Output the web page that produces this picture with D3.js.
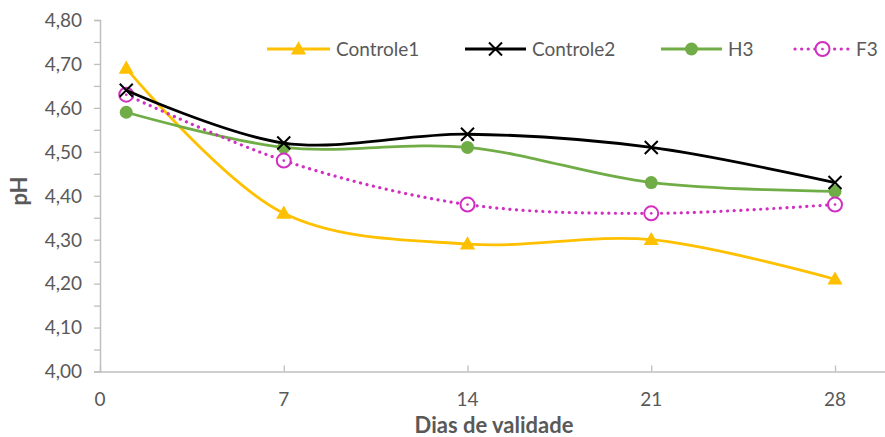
<!DOCTYPE html>
<html><head><meta charset="utf-8">
<script src="https://cdn.jsdelivr.net/npm/d3@7"></script>
<style>body{margin:0;background:#fff}svg{display:block}text{font-family:Lato,"Open Sans",sans-serif}</style>
</head><body><svg id="c" width="885" height="437"></svg>
<script>
const days = [1, 7, 14, 21, 28];
const controle1 = [4.69, 4.36, 4.29, 4.30, 4.21];
const controle2 = [4.64, 4.52, 4.54, 4.51, 4.43];
const h3 = [4.59, 4.51, 4.51, 4.43, 4.41];
const f3 = [4.63, 4.48, 4.38, 4.36, 4.38];
const xTicks = [0, 7, 14, 21, 28];
const yTicks = [4.0, 4.1, 4.2, 4.3, 4.4, 4.5, 4.6, 4.7, 4.8];
const seriesNames = ["Controle1", "Controle2", "H3", "F3"];

const svg = d3.select("#c");
const x = d3.scaleLinear().domain([0, 30]).range([100, 887.5]);
const y = d3.scaleLinear().domain([4.0, 4.8]).range([371.5, 20]);
const axisCol = "#bfbfbf", textCol = "#595959";

// y axis
const ya = svg.append("g").attr("transform", "translate(100,0)")
  .call(d3.axisLeft(y).tickValues(d3.range(4.0, 4.801, 0.05)).tickSize(6).tickFormat(""));
ya.select(".domain").attr("stroke", axisCol).attr("stroke-width", 1.5);
ya.selectAll("line").attr("stroke", axisCol).attr("stroke-width", 1.3);
svg.append("g").selectAll("text").data(yTicks).join("text")
  .attr("x", 82).attr("y", d => y(d)).attr("dy", "0.36em").attr("text-anchor", "end")
  .attr("fill", textCol).attr("font-size", 19).text(d => d.toFixed(2).replace(".", ","));

// x axis
const xa = svg.append("g").attr("transform", "translate(0,371.5)")
  .call(d3.axisBottom(x).tickValues(xTicks).tickSize(-6).tickFormat("").tickSizeOuter(0));
xa.select(".domain").attr("stroke", axisCol).attr("stroke-width", 1.5);
xa.selectAll("line").attr("stroke", axisCol).attr("stroke-width", 1.3);
svg.append("g").selectAll("text").data(xTicks).join("text")
  .attr("x", d => x(d)).attr("y", 406).attr("text-anchor", "middle")
  .attr("fill", textCol).attr("font-size", 19).text(d => d);

svg.append("text").attr("x", 494).attr("y", 433).attr("text-anchor", "middle")
  .attr("font-weight", "bold").attr("font-size", 22).attr("fill", textCol).text("Dias de validade");
svg.append("text").attr("transform", "translate(27,191) rotate(-90)").attr("text-anchor", "middle")
  .attr("font-weight", "bold").attr("font-size", 22).attr("fill", textCol).text("pH");

const series = [
  {name: seriesNames[0], vals: controle1, color: "#ffc000", marker: "tri", dash: null},
  {name: seriesNames[1], vals: controle2, color: "#000000", marker: "x", dash: null},
  {name: seriesNames[2], vals: h3, color: "#70ad47", marker: "dot", dash: null},
  {name: seriesNames[3], vals: f3, color: "#d12fc2", marker: "ring", dash: "0.1,6.5"}
];

const line = d3.line().x((d, i) => x(days[i])).y(d => y(d)).curve(d3.curveCatmullRom.alpha(0.5));

function marker(g, type, color, cx, cy) {
  if (type === "tri") {
    g.append("path").attr("d", d3.symbol(d3.symbolTriangle, 100)()).attr("transform", `translate(${cx},${cy+1})`).attr("fill", color);
  } else if (type === "x") {
    const s = 6.5;
    g.append("path").attr("d", `M${cx-s},${cy-s}L${cx+s},${cy+s}M${cx-s},${cy+s}L${cx+s},${cy-s}`)
      .attr("stroke", color).attr("stroke-width", 2);
  } else if (type === "dot") {
    g.append("circle").attr("cx", cx).attr("cy", cy).attr("r", 6.5).attr("fill", color);
  } else {
    g.append("circle").attr("cx", cx).attr("cy", cy).attr("r", 7).attr("fill", "#fff").attr("stroke", color).attr("stroke-width", 2);
    g.append("circle").attr("cx", cx).attr("cy", cy).attr("r", 1.3).attr("fill", color);
  }
}

const order = [0, 2, 3, 1];
order.forEach(k => {
  const s = series[k];
  const g = svg.append("g");
  g.append("path").attr("d", line(s.vals)).attr("fill", "none").attr("stroke", s.color)
    .attr("stroke-width", s.dash ? 3.2 : 2.8).attr("stroke-dasharray", s.dash).attr("stroke-linecap", s.dash ? "round" : "butt");
  s.vals.forEach((v, i) => marker(g, s.marker, s.color, x(days[i]), y(v)));
});

// legend
const legX = [267, 465, 661, 795];
const legW = [63, 61, 61, 55];
series.forEach((s, i) => {
  const g = svg.append("g");
  const y0 = 49;
  g.append("line").attr("x1", legX[i]).attr("x2", legX[i] + legW[i]).attr("y1", y0).attr("y2", y0)
    .attr("stroke", s.color).attr("stroke-width", s.dash ? 3.2 : 2.8).attr("stroke-dasharray", s.dash).attr("stroke-linecap", s.dash ? "round" : "butt");
  marker(g, s.marker, s.color, legX[i] + legW[i] / 2, y0);
  g.append("text").attr("x", legX[i] + legW[i] + 6).attr("y", y0).attr("dy", "0.36em")
    .attr("font-size", 19).attr("fill", textCol).text(s.name);
});
</script></body></html>
